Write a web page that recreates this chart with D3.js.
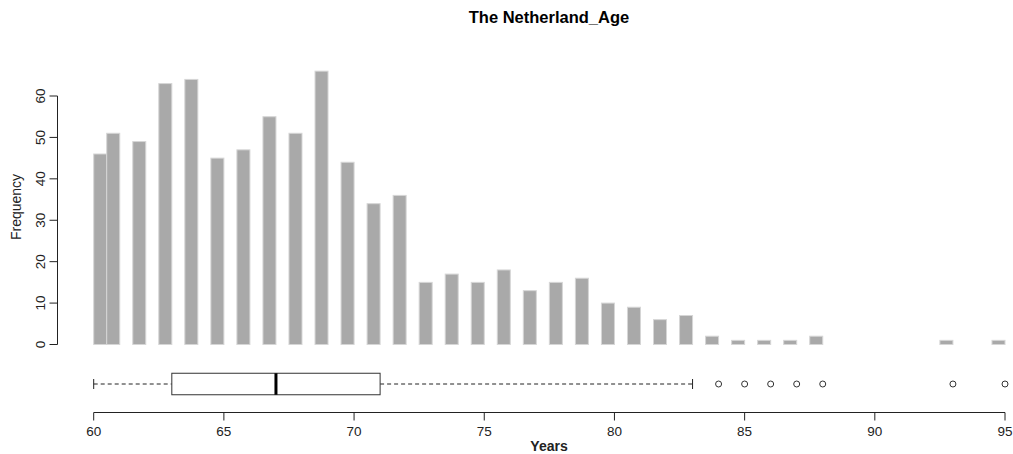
<!DOCTYPE html>
<html>
<head>
<meta charset="utf-8">
<script src="https://cdn.jsdelivr.net/npm/d3@7"></script>
<style>
  body { margin: 0; background: #fff; }
  text { font-family: "Liberation Sans", Arial, sans-serif; fill: #222; }
</style>
</head>
<body>
<div id="chart"></div>
<script>
// histogram counts per age (years)
const ages   = [60, 61, 62, 63, 64, 65, 66, 67, 68, 69, 70, 71, 72, 73, 74, 75, 76, 77, 78, 79, 80, 81, 82, 83, 84, 85, 86, 87, 88, 93, 95];
const counts = [46, 51, 49, 63, 64, 45, 47, 55, 51, 66, 44, 34, 36, 15, 17, 15, 18, 13, 15, 16, 10,  9,  6,  7,  2,  1,  1,  1,  2,  1,  1];
const xTicks = [60, 65, 70, 75, 80, 85, 90, 95];
const yTicks = [0, 10, 20, 30, 40, 50, 60];

const width = 1013, height = 454;

const svg = d3.select("#chart").append("svg")
    .attr("width", width)
    .attr("height", height);

const x = d3.scaleLinear().domain([60, 95]).range([93.7, 1005]);
const y = d3.scaleLinear().domain([0, 60]).range([344.5, 96]);

// R hist with 0.5-wide breaks, right closed: (a-0.5, a], first bin [60, 60.5]
const bins = ages.map((a, i) => ({
    age: a,
    n: counts[i],
    x0: a === 60 ? 60 : a - 0.5,
    x1: a === 60 ? 60.5 : a
}));

svg.append("g")
    .selectAll("rect")
    .data(bins)
    .join("rect")
    .attr("x", d => x(d.x0))
    .attr("width", d => x(d.x1) - x(d.x0))
    .attr("y", d => y(d.n))
    .attr("height", d => y(0) - y(d.n))
    .attr("fill", "#a9a9a9")
    .attr("stroke", "#d6d6d6")
    .attr("stroke-width", 1);

// y axis (R style, rotated labels)
const yAxis = svg.append("g").attr("transform", "translate(57.5,0)");
yAxis.append("line")
    .attr("y1", y(0)).attr("y2", y(60))
    .attr("stroke", "#222");
yAxis.selectAll(".tick")
    .data(yTicks)
    .join("line")
    .attr("x1", 0).attr("x2", -8)
    .attr("y1", d => y(d)).attr("y2", d => y(d))
    .attr("stroke", "#222");
yAxis.selectAll("text")
    .data(yTicks)
    .join("text")
    .attr("transform", d => `translate(-13,${y(d)}) rotate(-90)`)
    .attr("text-anchor", "middle")
    .style("font-size", "13.5px")
    .text(d => d);

svg.append("text")
    .attr("transform", `translate(21,207) rotate(-90)`)
    .attr("text-anchor", "middle")
    .style("font-size", "14px")
    .text("Frequency");

// boxplot from the reconstructed raw ages
const raw = [];
ages.forEach((a, i) => { for (let k = 0; k < counts[i]; k++) raw.push(a); });
raw.sort(d3.ascending);
const q1 = d3.quantile(raw, 0.25), med = d3.quantile(raw, 0.5), q3 = d3.quantile(raw, 0.75);
const iqr = q3 - q1;
const lo = d3.min(raw.filter(v => v >= q1 - 1.5 * iqr));
const hi = d3.max(raw.filter(v => v <= q3 + 1.5 * iqr));
const outliers = Array.from(new Set(raw.filter(v => v < lo || v > hi)));

const by = 384, bh = 21.5;
const box = svg.append("g");
box.append("line")
    .attr("x1", x(lo)).attr("x2", x(q1))
    .attr("y1", by).attr("y2", by)
    .attr("stroke", "#222").attr("stroke-dasharray", "4,3");
box.append("line")
    .attr("x1", x(q3)).attr("x2", x(hi))
    .attr("y1", by).attr("y2", by)
    .attr("stroke", "#222").attr("stroke-dasharray", "4,3");
[lo, hi].forEach(v => box.append("line")
    .attr("x1", x(v)).attr("x2", x(v))
    .attr("y1", by - 5).attr("y2", by + 5)
    .attr("stroke", "#222"));
box.append("rect")
    .attr("x", x(q1)).attr("width", x(q3) - x(q1))
    .attr("y", by - bh / 2).attr("height", bh)
    .attr("fill", "#fff").attr("stroke", "#333");
box.append("line")
    .attr("x1", x(med)).attr("x2", x(med))
    .attr("y1", by - bh / 2).attr("y2", by + bh / 2)
    .attr("stroke", "#000").attr("stroke-width", 3);
box.selectAll("circle")
    .data(outliers)
    .join("circle")
    .attr("cx", d => x(d)).attr("cy", by)
    .attr("r", 3)
    .attr("fill", "none").attr("stroke", "#333");

// x axis
const xAxis = svg.append("g").attr("transform", "translate(0,412.5)");
xAxis.append("line")
    .attr("x1", x(60)).attr("x2", x(95))
    .attr("stroke", "#222");
xAxis.selectAll(".tick")
    .data(xTicks)
    .join("line")
    .attr("x1", d => x(d)).attr("x2", d => x(d))
    .attr("y1", 0).attr("y2", 8)
    .attr("stroke", "#222");
xAxis.selectAll("text")
    .data(xTicks)
    .join("text")
    .attr("x", d => x(d))
    .attr("y", 23)
    .attr("text-anchor", "middle")
    .style("font-size", "13.5px")
    .text(d => d);

svg.append("text")
    .attr("x", 549).attr("y", 451)
    .attr("text-anchor", "middle")
    .style("font-size", "14px")
    .style("font-weight", "bold")
    .text("Years");

svg.append("text")
    .attr("x", 549).attr("y", 23)
    .attr("text-anchor", "middle")
    .style("font-size", "16.5px")
    .style("font-weight", "bold")
    .style("fill", "#000")
    .text("The Netherland_Age");
</script>
</body>
</html>
